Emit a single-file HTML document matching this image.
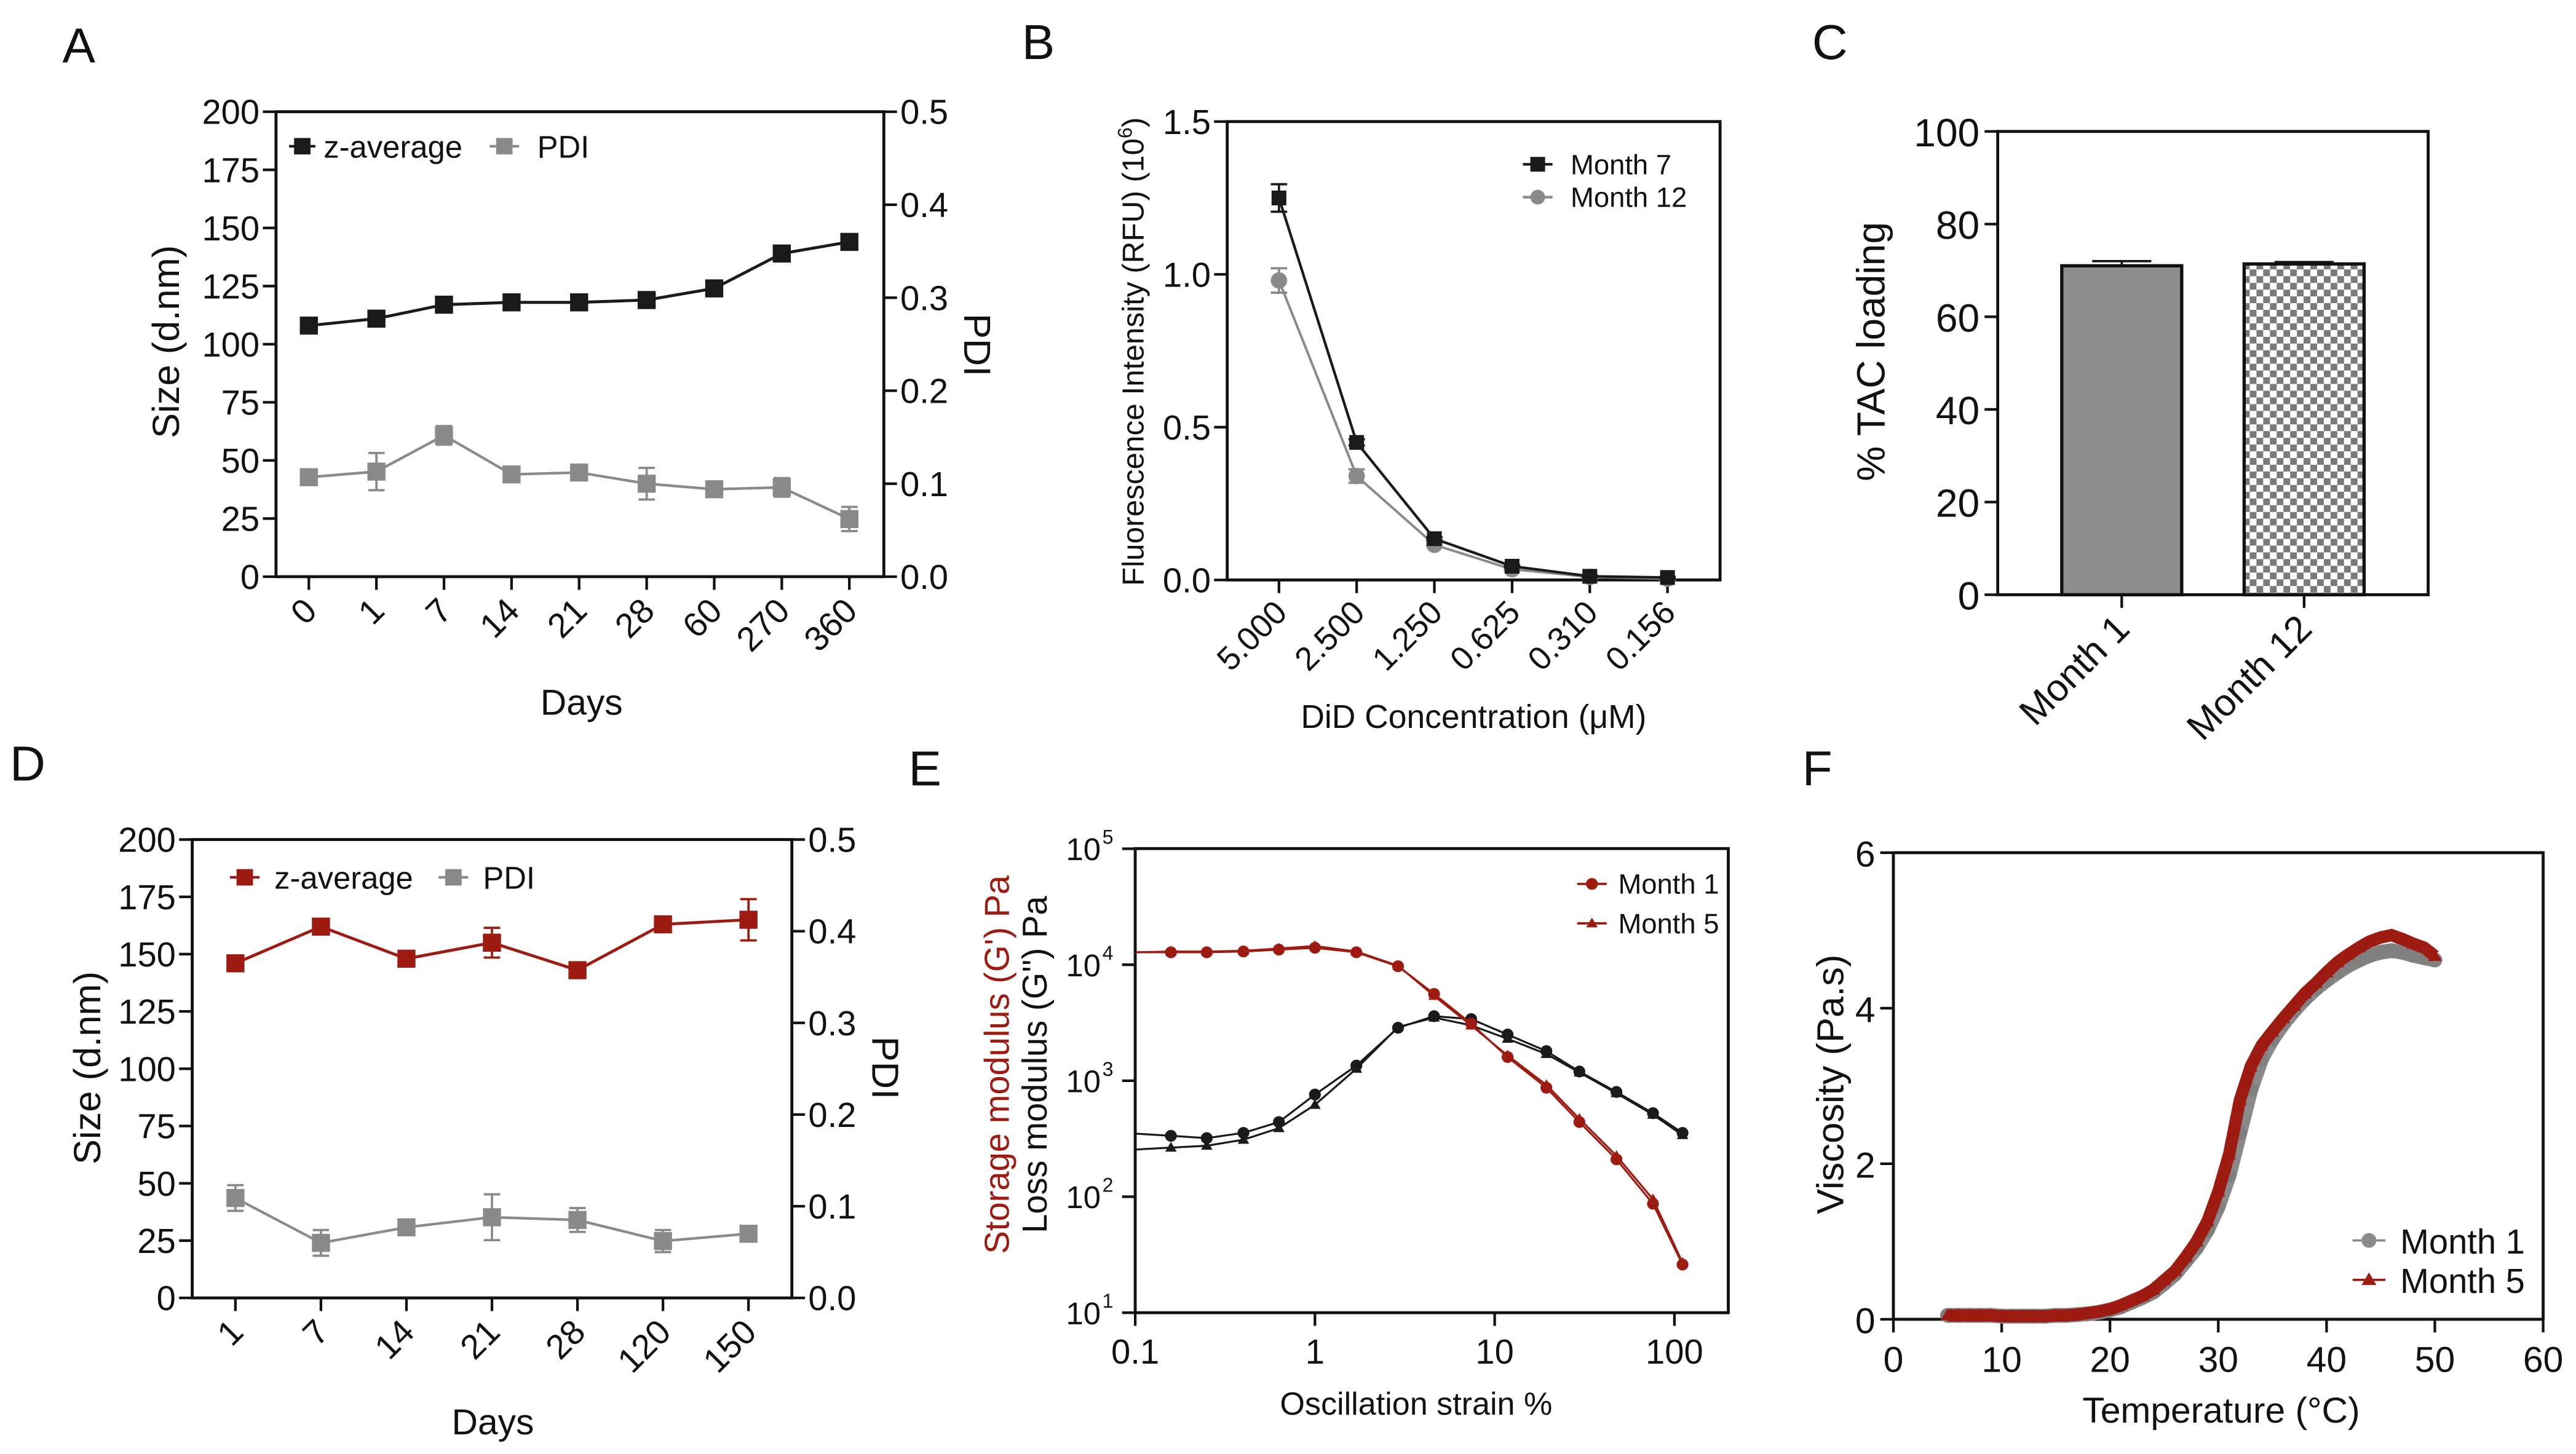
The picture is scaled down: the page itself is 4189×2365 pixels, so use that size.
<!DOCTYPE html>
<html><head><meta charset="utf-8"><style>
html,body{margin:0;padding:0;background:#fff;}
svg{display:block;font-family:"Liberation Sans",Arial,sans-serif;}
</style></head>
<body>
<svg id="fig" xmlns="http://www.w3.org/2000/svg" width="4189" height="2365" viewBox="0 0 1568 885" preserveAspectRatio="none">
<defs>
<pattern id="checker" patternUnits="userSpaceOnUse" width="8.2" height="8.2">
<rect width="8.2" height="8.2" fill="#ffffff"/>
<rect width="4.1" height="4.1" fill="#7a7a7a"/>
<rect x="4.1" y="4.1" width="4.1" height="4.1" fill="#7a7a7a"/>
</pattern>
</defs>
</svg>
<script>
// ---------- Panel A data ----------
const daysA = ["0","1","7","14","21","28","60","270","360"];
const zavgA = [108,111,117,118,118,119,124,139,144];
const pdiA = [0.107,0.113,0.152,0.110,0.112,0.100,0.094,0.096,0.062];
const pdiErrA = [0.004,0.020,0.010,0.004,0.004,0.017,0.004,0.010,0.013];
const leftTicksA = [0,25,50,75,100,125,150,175,200];
const rightTicksA = ["0.0","0.1","0.2","0.3","0.4","0.5"];
// ---------- Panel B data ----------
const concB = ["5.000","2.500","1.250","0.625","0.310","0.156"];
const m7B = [1.25,0.45,0.135,0.045,0.012,0.008];
const m7ErrB = [0.045,0.01,0.005,0.003,0.002,0.002];
const m12B = [0.98,0.34,0.115,0.035,0.01,0.004];
const m12ErrB = [0.04,0.022,0.005,0.003,0.002,0.002];
const ticksB = ["0.0","0.5","1.0","1.5"];
// ---------- Panel C data ----------
const catsC = ["Month 1","Month 12"];
const valsC = [71.0,71.4];
const errC = [1.0,0.4];
const ticksC = [0,20,40,60,80,100];
// ---------- Panel D data ----------
const daysD = ["1","7","14","21","28","120","150"];
const zavgD = [146,162,148,155,143,163,165];
const zavgErrD = [2,2,2,6.5,2,3,9];
const pdiD = [0.109,0.060,0.077,0.088,0.085,0.062,0.070];
const pdiErrD = [0.014,0.014,0.004,0.025,0.013,0.012,0.004];
// ---------- Panel E data ----------
const strainE = [0.158,0.25,0.4,0.63,1.0,1.7,2.9,4.6,7.4,11.8,19.4,29.6,47.6,76,111];
const gp1E = [12800,12800,13000,13500,14000,12800,9700,5600,3100,1600,870,440,210,87,26];
const gp5E = [13000,13000,13200,13800,14500,13000,9800,5400,3000,1650,920,470,225,95,27];
const gpp1E = [335,320,355,440,760,1350,2860,3600,3400,2500,1800,1200,800,525,355];
const gpp5E = [265,275,310,390,620,1270,2900,3500,3000,2300,1700,1180,780,510,340];
const gpp1StartE = 350;
const gpp5StartE = 255;
const gpStartE = 12800;
const yTicksE = [1,2,3,4,5];
const xTicksE = ["0.1","1","10","100"];
// ---------- Panel F data ----------
const tempF = [5,6,7,8,9,10,11,12,13,14,15,16,17,18,19,20,21,22,23,24,25,26,27,28,29,30,31,32,33,34,35,36,37,38,39,40,41,42,43,44,45,46,47,48,49,50];
const m5F = [0.05,0.05,0.05,0.05,0.05,0.04,0.04,0.04,0.04,0.04,0.05,0.05,0.06,0.08,0.10,0.13,0.18,0.24,0.30,0.38,0.50,0.62,0.80,1.00,1.26,1.64,2.12,2.82,3.25,3.52,3.70,3.87,4.03,4.19,4.32,4.46,4.59,4.69,4.78,4.86,4.91,4.94,4.89,4.83,4.78,4.67];
const m1F = [0.05,0.05,0.05,0.05,0.05,0.04,0.04,0.04,0.04,0.04,0.05,0.05,0.06,0.07,0.09,0.12,0.16,0.22,0.28,0.35,0.46,0.58,0.75,0.92,1.15,1.45,1.85,2.40,2.95,3.35,3.60,3.80,3.97,4.12,4.25,4.36,4.46,4.55,4.62,4.68,4.72,4.74,4.72,4.68,4.65,4.62];
const xTicksF = [0,10,20,30,40,50,60];
const yTicksF = [0,2,4,6];

const NS = "http://www.w3.org/2000/svg";
const svg = document.getElementById("fig");
const RED = "#9e1b12", BLK = "#1a1a1a", GRY = "#8a8a8a";

function mk(tag, attrs, parent, name) {
  const el = document.createElementNS(NS, tag);
  for (const k in attrs) el.setAttribute(k, attrs[k]);
  
  
  (parent || svg).appendChild(el);
  return el;
}
function group(name) { return mk("g", {}, svg, name); }
function line(g, x1, y1, x2, y2, stroke, w, name) {
  return mk("line", {x1, y1, x2, y2, stroke, "stroke-width": w}, g, name);
}
function text(g, x, y, s, size, anchor, name, extra) {
  const a = {x, y, "font-size": size, "text-anchor": anchor || "start", fill: "#111"};
  if (extra) for (const k in extra) a[k] = extra[k];
  const t = mk("text", a, g, name);
  t.textContent = s;
  return t;
}
function lin(d0, d1, r0, r1) { return v => r0 + (v - d0) / (d1 - d0) * (r1 - r0); }
function box(g, l, t, r, b, name) {
  return mk("rect", {x: l, y: t, width: r - l, height: b - t, fill: "none", stroke: "#111", "stroke-width": 1.8}, g, name);
}
function square(g, x, y, s, fill, name) {
  return mk("rect", {x: x - s / 2, y: y - s / 2, width: s, height: s, fill}, g, name);
}
function circle(g, x, y, r, fill, name) {
  return mk("circle", {cx: x, cy: y, r, fill}, g, name);
}
function tri(g, x, y, s, fill, name) {
  return mk("polygon", {points: `${x},${y - s} ${x - s},${y + s * 0.7} ${x + s},${y + s * 0.7}`, fill}, g, name);
}
function poly(g, pts, stroke, w, name) {
  return mk("polyline", {points: pts.map(p => p.join(",")).join(" "), fill: "none", stroke, "stroke-width": w, "stroke-linejoin": "round"}, g, name);
}
function errbar(g, x, y1, y2, color, name) {
  const e = mk("g", {}, g, name);
  line(e, x, y1, x, y2, color, 1.4, "error-stem");
  line(e, x - 5, y1, x + 5, y1, color, 1.4, "error-cap-top");
  line(e, x - 5, y2, x + 5, y2, color, 1.4, "error-cap-bottom");
  return e;
}
function rotLabel(g, x, y, s, size, name) {
  return text(g, x, y, s, size, "end", name, {transform: `rotate(-45 ${x} ${y})`});
}
function panelLetter(x, y, s) {
  const g = group("panel-label-" + s.toLowerCase());
  text(g, x, y, s, 30, "start", "panel-letter");
}

// ================= Panel A =================
(function () {
  const g = group("panel-a-chart");
  panelLetter(38, 38, "A");
  const L = 168, R = 538, T = 68, B = 351;
  const x = i => 188 + i * (517 - 188) / (daysA.length - 1);
  const y = lin(0, 200, B, T), yr = lin(0, 0.5, B, T);
  box(g, L, T, R, B, "plot-frame");
  leftTicksA.forEach(v => { line(g, L - 8, y(v), L, y(v), "#111", 1.6, "y-tick"); text(g, L - 10, y(v) + 7.5, String(v), 21, "end", "y-tick-label"); });
  rightTicksA.forEach(v => { line(g, R, yr(+v), R + 8, yr(+v), "#111", 1.6, "y2-tick"); text(g, R + 10, yr(+v) + 7.5, v, 21, "start", "y2-tick-label"); });
  daysA.forEach((d, i) => { line(g, x(i), B, x(i), B + 8, "#111", 1.6, "x-tick"); rotLabel(g, x(i) + 6, B + 22, d, 21, "x-tick-label"); });
  text(g, 354, 435, "Days", 22, "middle", "x-axis-title");
  text(g, 0, 0, "Size (d.nm)", 23, "middle", "y-axis-title", {transform: "translate(109 208) rotate(-90)"});
  text(g, 0, 0, "PDI", 23, "middle", "y2-axis-title", {transform: "translate(587 210) rotate(90)"});
  poly(g, pdiA.map((v, i) => [x(i), yr(v)]), GRY, 1.6, "pdi-line");
  pdiA.forEach((v, i) => { errbar(g, x(i), yr(v + pdiErrA[i]), yr(v - pdiErrA[i]), GRY, "pdi-error-bar"); square(g, x(i), yr(v), 11, GRY, "pdi-point"); });
  poly(g, zavgA.map((v, i) => [x(i), y(v)]), BLK, 1.8, "z-average-line");
  zavgA.forEach((v, i) => square(g, x(i), y(v), 11, BLK, "z-average-point"));
  const lg = mk("g", {}, g, "legend");
  line(lg, 176, 89, 192, 89, BLK, 1.6, "legend-line"); square(lg, 184, 89, 10, BLK, "legend-marker-z-average");
  text(lg, 197, 96, "z-average", 19, "start", "legend-entry-z-average");
  line(lg, 298, 89, 316, 89, GRY, 1.6, "legend-line"); square(lg, 307, 89, 10, GRY, "legend-marker-pdi");
  text(lg, 327, 96, "PDI", 19, "start", "legend-entry-pdi");
})();

// ================= Panel B =================
(function () {
  const g = group("panel-b-chart");
  panelLetter(622, 36, "B");
  const L = 747, R = 1047, T = 74, B = 353;
  const x = i => 778.5 + i * (1015 - 778.5) / (concB.length - 1);
  const y = lin(0, 1.5, B, T);
  box(g, L, T, R, B, "plot-frame");
  ticksB.forEach(v => { line(g, L - 8, y(+v), L, y(+v), "#111", 1.6, "y-tick"); text(g, L - 10, y(+v) + 7.5, v, 21, "end", "y-tick-label"); });
  concB.forEach((d, i) => { line(g, x(i), B, x(i), B + 8, "#111", 1.6, "x-tick"); rotLabel(g, x(i) + 6, B + 21, d, 20, "x-tick-label"); });
  text(g, 897, 443, "DiD Concentration (\u03bcM)", 20, "middle", "x-axis-title");
  const yt = text(g, 0, 0, "Fluorescence Intensity (RFU) (10", 18.5, "middle", "y-axis-title", {transform: "translate(696 214) rotate(-90)"});
  const sup = document.createElementNS(NS, "tspan"); sup.setAttribute("dy", "-7"); sup.setAttribute("font-size", "12"); sup.textContent = "6"; yt.appendChild(sup);
  const cl = document.createElementNS(NS, "tspan"); cl.setAttribute("dy", "7"); cl.textContent = ")"; yt.appendChild(cl);
  poly(g, m12B.map((v, i) => [x(i), y(v)]), GRY, 1.5, "month-12-line");
  m12B.forEach((v, i) => { errbar(g, x(i), y(v + m12ErrB[i]), y(v - m12ErrB[i]), GRY, "month-12-error-bar"); circle(g, x(i), y(v), 5, GRY, "month-12-point"); });
  poly(g, m7B.map((v, i) => [x(i), y(v)]), BLK, 1.6, "month-7-line");
  m7B.forEach((v, i) => { errbar(g, x(i), y(v + m7ErrB[i]), y(v - m7ErrB[i]), BLK, "month-7-error-bar"); square(g, x(i), y(v), 9, BLK, "month-7-point"); });
  const lg = mk("g", {}, g, "legend");
  line(lg, 927, 100, 945, 100, BLK, 1.6, "legend-line"); square(lg, 936, 100, 9, BLK, "legend-marker-month-7");
  text(lg, 956, 106, "Month 7", 17, "start", "legend-entry-month-7");
  line(lg, 927, 120, 945, 120, GRY, 1.6, "legend-line"); circle(lg, 936, 120, 4.5, GRY, "legend-marker-month-12");
  text(lg, 956, 126, "Month 12", 17, "start", "legend-entry-month-12");
})();

// ================= Panel C =================
(function () {
  const g = group("panel-c-chart");
  panelLetter(1103, 36, "C");
  const L = 1216, R = 1478, T = 80, B = 362;
  const y = lin(0, 100, B, T);
  const xc = [1291.5, 1402.5], bw = 73;
  box(g, L, T, R, B, "plot-frame");
  ticksC.forEach(v => { line(g, L - 8, y(v), L, y(v), "#111", 1.6, "y-tick"); text(g, L - 11, y(v) + 9, String(v), 24, "end", "y-tick-label"); });
  const fills = ["#8e8e8e", "url(#checker)"];
  valsC.forEach((v, i) => {
    mk("rect", {x: xc[i] - bw / 2, y: y(v), width: bw, height: B - y(v), fill: fills[i], stroke: "#111", "stroke-width": 2}, g, "bar-" + catsC[i].toLowerCase().replace(" ", "-"));
    line(g, xc[i], y(v), xc[i], y(v + errC[i]), "#111", 1.4, "error-stem");
    line(g, xc[i] - 18, y(v + errC[i]), xc[i] + 18, y(v + errC[i]), "#111", 1.4, "error-cap");
    line(g, xc[i], B, xc[i], B + 8, "#111", 1.6, "x-tick");
    rotLabel(g, xc[i] + 6, B + 22, catsC[i], 23, "x-tick-label");
  });
  text(g, 0, 0, "% TAC loading", 24, "middle", "y-axis-title", {transform: "translate(1147 214) rotate(-90)"});
})();

// ================= Panel D =================
(function () {
  const g = group("panel-d-chart");
  panelLetter(6, 475, "D");
  const L = 117, R = 482, T = 511, B = 790;
  const x = i => 143.3 + i * (455.6 - 143.3) / (daysD.length - 1);
  const y = lin(0, 200, B, T), yr = lin(0, 0.5, B, T);
  box(g, L, T, R, B, "plot-frame");
  leftTicksA.forEach(v => { line(g, L - 8, y(v), L, y(v), "#111", 1.6, "y-tick"); text(g, L - 10, y(v) + 7.5, String(v), 21, "end", "y-tick-label"); });
  rightTicksA.forEach(v => { line(g, R, yr(+v), R + 8, yr(+v), "#111", 1.6, "y2-tick"); text(g, R + 10, yr(+v) + 7.5, v, 21, "start", "y2-tick-label"); });
  daysD.forEach((d, i) => { line(g, x(i), B, x(i), B + 8, "#111", 1.6, "x-tick"); rotLabel(g, x(i) + 6, B + 22, d, 21, "x-tick-label"); });
  text(g, 300, 873, "Days", 22, "middle", "x-axis-title");
  text(g, 0, 0, "Size (d.nm)", 23, "middle", "y-axis-title", {transform: "translate(61 650) rotate(-90)"});
  text(g, 0, 0, "PDI", 23, "middle", "y2-axis-title", {transform: "translate(531 650) rotate(90)"});
  poly(g, pdiD.map((v, i) => [x(i), yr(v)]), GRY, 1.6, "pdi-line");
  pdiD.forEach((v, i) => { errbar(g, x(i), yr(v + pdiErrD[i]), yr(v - pdiErrD[i]), GRY, "pdi-error-bar"); square(g, x(i), yr(v), 11, GRY, "pdi-point"); });
  poly(g, zavgD.map((v, i) => [x(i), y(v)]), RED, 1.8, "z-average-line");
  zavgD.forEach((v, i) => { errbar(g, x(i), y(v + zavgErrD[i]), y(v - zavgErrD[i]), RED, "z-average-error-bar"); square(g, x(i), y(v), 11, RED, "z-average-point"); });
  const lg = mk("g", {}, g, "legend");
  line(lg, 140, 534, 158, 534, RED, 1.6, "legend-line"); square(lg, 149, 534, 10, RED, "legend-marker-z-average");
  text(lg, 167, 541, "z-average", 19, "start", "legend-entry-z-average");
  line(lg, 267, 534, 285, 534, GRY, 1.6, "legend-line"); square(lg, 276, 534, 10, GRY, "legend-marker-pdi");
  text(lg, 294, 541, "PDI", 19, "start", "legend-entry-pdi");
})();

// ================= Panel E =================
(function () {
  const g = group("panel-e-chart");
  panelLetter(553, 478, "E");
  const L = 691, R = 1052, T = 516.5, B = 799;
  const x = v => L + (Math.log10(v) + 1) * 109.4;
  const y = v => B - (Math.log10(v) - 1) * 70.6;
  box(g, L, T, R, B, "plot-frame");
  yTicksE.forEach(p => {
    const yy = B - (p - 1) * 70.6;
    line(g, L - 8, yy, L, yy, "#111", 1.6, "y-tick");
    text(g, L - 21, yy + 7, "10", 19, "end", "y-tick-label");
    text(g, L - 20, yy - 3, String(p), 12, "start", "y-tick-exponent");
  });
  xTicksE.forEach(s => { const xx = x(+s); line(g, xx, B, xx, B + 8, "#111", 1.6, "x-tick"); text(g, xx, B + 31, s, 21, "middle", "x-tick-label"); });
  text(g, 862, 861, "Oscillation strain %", 19.5, "middle", "x-axis-title");
  text(g, 0, 0, "Storage modulus (G') Pa", 21, "middle", "y-axis-title-storage", {transform: "translate(614 648) rotate(-90)", fill: RED});
  text(g, 0, 0, "Loss modulus (G'') Pa", 21, "middle", "y-axis-title-loss", {transform: "translate(637 648) rotate(-90)"});
  poly(g, [[L, y(gpp5StartE)]].concat(gpp5E.map((v, i) => [x(strainE[i]), y(v)])), BLK, 1.2, "loss-month-5-line");
  poly(g, [[L, y(gpp1StartE)]].concat(gpp1E.map((v, i) => [x(strainE[i]), y(v)])), BLK, 1.2, "loss-month-1-line");
  gpp5E.forEach((v, i) => tri(g, x(strainE[i]), y(v), 3.5, BLK, "loss-month-5-point"));
  gpp1E.forEach((v, i) => circle(g, x(strainE[i]), y(v), 3.6, BLK, "loss-month-1-point"));
  poly(g, [[L, y(gpStartE)]].concat(gp5E.map((v, i) => [x(strainE[i]), y(v)])), RED, 1.2, "storage-month-5-line");
  poly(g, [[L, y(gpStartE)]].concat(gp1E.map((v, i) => [x(strainE[i]), y(v)])), RED, 1.2, "storage-month-1-line");
  gp5E.forEach((v, i) => tri(g, x(strainE[i]), y(v), 3.5, RED, "storage-month-5-point"));
  gp1E.forEach((v, i) => circle(g, x(strainE[i]), y(v), 3.6, RED, "storage-month-1-point"));
  const lg = mk("g", {}, g, "legend");
  line(lg, 960, 538, 978, 538, RED, 1.4, "legend-line"); circle(lg, 969, 538, 3.6, RED, "legend-marker-month-1");
  text(lg, 985, 544, "Month 1", 17, "start", "legend-entry-month-1");
  line(lg, 960, 562, 978, 562, RED, 1.4, "legend-line"); tri(lg, 969, 562, 3.5, RED, "legend-marker-month-5");
  text(lg, 985, 568, "Month 5", 17, "start", "legend-entry-month-5");
})();

// ================= Panel F =================
(function () {
  const g = group("panel-f-chart");
  panelLetter(1097, 478, "F");
  const L = 1152.5, R = 1548, T = 519, B = 803;
  const x = lin(0, 60, L, R), y = lin(0, 6, B, T);
  box(g, L, T, R, B, "plot-frame");
  yTicksF.forEach(v => { line(g, L - 8, y(v), L, y(v), "#111", 1.6, "y-tick"); text(g, L - 11, y(v) + 8.5, String(v), 22, "end", "y-tick-label"); });
  xTicksF.forEach(v => { line(g, x(v), B, x(v), B + 8, "#111", 1.6, "x-tick"); text(g, x(v), B + 32, String(v), 22, "middle", "x-tick-label"); });
  text(g, 1352, 866, "Temperature (\u00b0C)", 22, "middle", "x-axis-title");
  text(g, 0, 0, "Viscosity (Pa.s)", 23, "middle", "y-axis-title", {transform: "translate(1122 660) rotate(-90)"});
  poly(g, m1F.map((v, i) => [x(tempF[i]), y(v)]), GRY, 9, "month-1-line");
  m1F.forEach((v, i) => circle(g, x(tempF[i]), y(v), 4.5, "#808080", "month-1-point"));
  poly(g, m5F.map((v, i) => [x(tempF[i]), y(v)]), RED, 7.5, "month-5-line");
  m5F.forEach((v, i) => tri(g, x(tempF[i]), y(v), 4.2, RED, "month-5-point"));
  const lg = mk("g", {}, g, "legend");
  line(lg, 1432, 755, 1452, 755, GRY, 1.4, "legend-line"); circle(lg, 1442, 755, 4.5, GRY, "legend-marker-month-1");
  text(lg, 1461, 763, "Month 1", 21, "start", "legend-entry-month-1");
  line(lg, 1432, 779, 1452, 779, RED, 1.4, "legend-line"); tri(lg, 1442, 779, 4.5, RED, "legend-marker-month-5");
  text(lg, 1461, 787, "Month 5", 21, "start", "legend-entry-month-5");
})();
</script>
</body></html>
